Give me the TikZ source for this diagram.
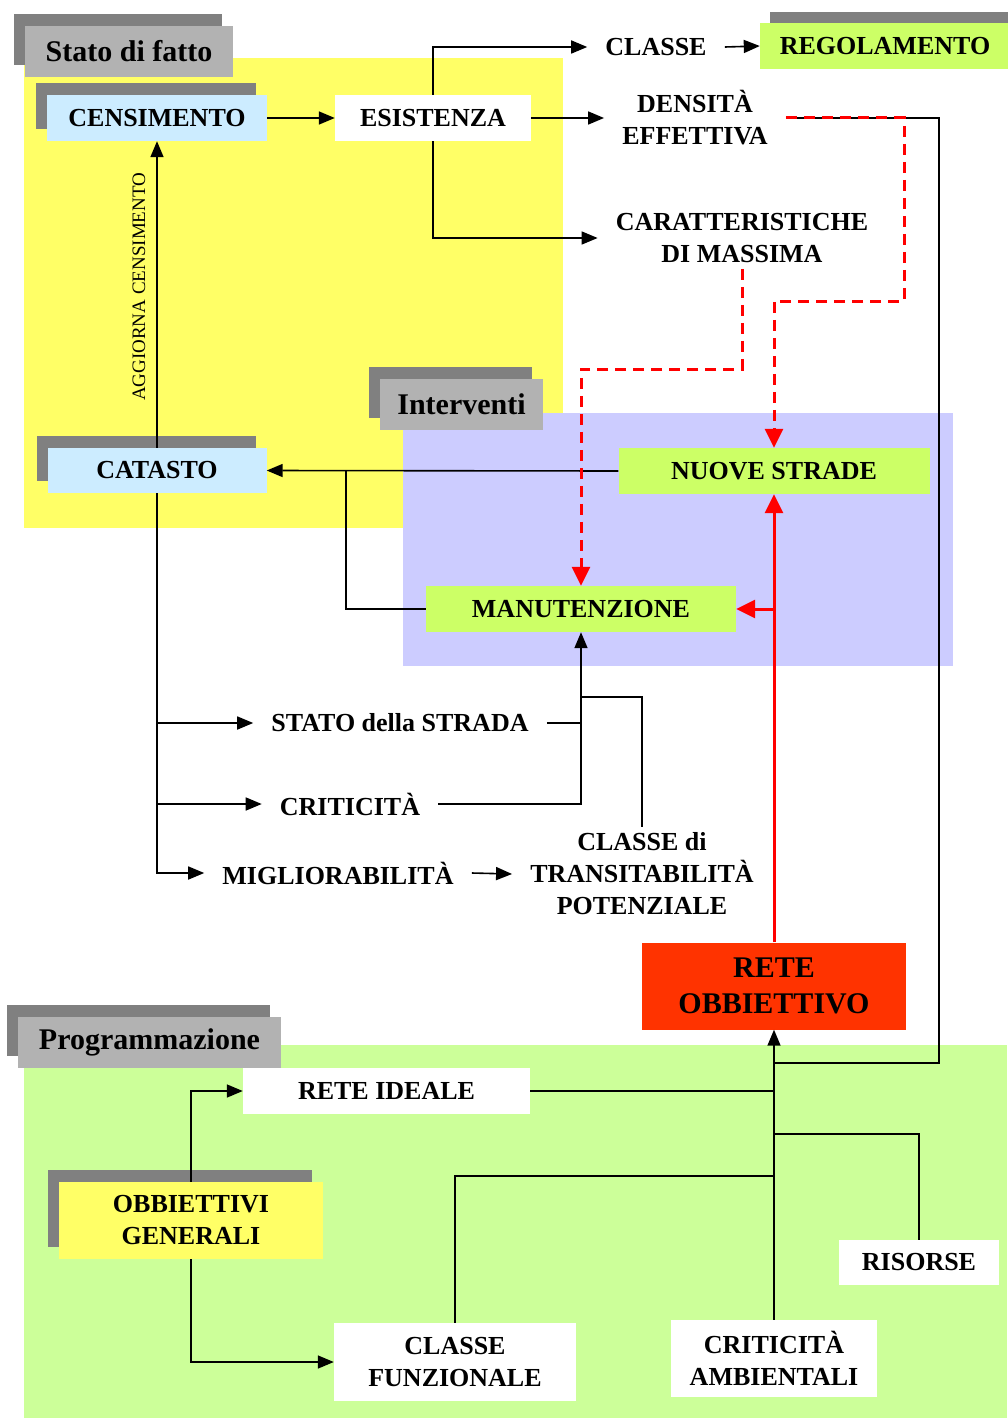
\documentclass[tikz,border=0pt]{standalone}
\usepackage{fontspec}
\setmainfont{Liberation Serif}
\usetikzlibrary{arrows.meta,shadows}
\definecolor{giallo}{HTML}{FFFF66}
\definecolor{lilla}{HTML}{CCCCFF}
\definecolor{verdino}{HTML}{CCFF99}
\definecolor{verde}{HTML}{CCFF66}
\definecolor{celeste}{HTML}{CCECFF}
\definecolor{grigio}{HTML}{B2B2B2}
\definecolor{ombra}{HTML}{808080}
\definecolor{arancio}{HTML}{FF3300}
\tikzset{
	testo/.style={font=\fontsize{26}{32}\selectfont\bfseries, align=center, inner xsep=18pt, inner ysep=6pt},
	casella/.style={testo, inner sep=0pt, fill=#1},
	ombrata/.style={general shadow={fill=ombra, shadow xshift=-11pt, shadow yshift=12pt}},
	titolo/.style={font=\fontsize{30}{36}\selectfont\bfseries, fill=grigio, inner sep=0pt, minimum height=51pt, ombrata},
	linea/.style={line width=1.6pt},
	freccia/.style={linea, -{Triangle[length=16pt,width=13pt]}},
	rossa/.style={red, line width=3pt, -{Triangle[length=19pt,width=18pt]}},
	tratteggio/.style={rossa, dash pattern=on 11pt off 7pt}
}
\begin{document}
\begin{tikzpicture}[x=1pt,y=-1pt,line join=miter]
	\useasboundingbox (0,0) rectangle (1007,1418);
	% riquadri
	\fill[giallo] (24,58) rectangle (563,528);
	\fill[lilla] (403,413) rectangle (953,666);
	\fill[verdino] (24,1045) rectangle (1007,1418);

	\node[titolo, minimum width=208pt] (statofatto) at (129,51.5) {Stato di fatto};
	\node[titolo, minimum width=163pt] (interventi) at (461.5,404.5) {Interventi};
	\node[titolo, minimum width=263pt] (programmazione) at (149.5,1042.5) {Programmazione};

	% stato di fatto
	\node[casella=celeste, ombrata, minimum width=220pt, minimum height=46pt] (censimento) at (157,118) {CENSIMENTO};
	\node[casella=white, minimum width=196pt, minimum height=46pt] (esistenza) at (433,118) {ESISTENZA};
	\node[testo] (classe) at (656,47) {CLASSE};
	\node[casella=verde, minimum width=250pt, minimum height=46pt,
		general shadow={fill=ombra, shadow xshift=10pt, shadow yshift=11pt}] (regolamento) at (885,46) {REGOLAMENTO};
	\node[testo] (densita) at (695,118) {DENSITÀ\\EFFETTIVA};
	\node[testo] (caratt) at (742,238) {CARATTERISTICHE\\DI MASSIMA};
	\node[casella=celeste, ombrata, minimum width=219pt, minimum height=45pt] (catasto) at (157,470.5) {CATASTO};

	% interventi
	\node[casella=verde, minimum width=311pt, minimum height=46pt] (nuove) at (774,471) {NUOVE STRADE};
	\node[casella=verde, minimum width=310pt, minimum height=46pt] (manutenzione) at (581,609) {MANUTENZIONE};
	\node[testo] (statostrada) at (400,723) {STATO della STRADA};
	\node[testo] (criticita) at (350,804) {CRITICITÀ};
	\node[testo] (migliorabilita) at (338,873) {MIGLIORABILITÀ};
	\node[testo] (transitabilita) at (642,874) {CLASSE di\\TRANSITABILITÀ\\POTENZIALE};
	\node[casella=arancio, font=\fontsize{30}{36}\selectfont\bfseries, minimum width=264pt, minimum height=87pt] (reteobb) at (774,986) {RETE\\OBBIETTIVO};

	% programmazione
	\node[casella=white, minimum width=287pt, minimum height=46pt] (reteideale) at (386.5,1091) {RETE IDEALE};
	\node[casella=giallo, ombrata, minimum width=264pt, minimum height=77pt] (obgenerali) at (191,1220.5) {OBBIETTIVI\\GENERALI};
	\node[casella=white, minimum width=242pt, minimum height=78pt] (classefunz) at (455,1362) {CLASSE\\FUNZIONALE};
	\node[casella=white, minimum width=206pt, minimum height=77pt] (critamb) at (774,1358.5) {CRITICITÀ\\AMBIENTALI};
	\node[casella=white, minimum width=160pt, minimum height=45pt] (risorse) at (919,1262.5) {RISORSE};

	\coordinate (jman) at (581,697);
	\coordinate (jden) at (774,1063);
	\coordinate (jide) at (774,1091);
	\coordinate (jris) at (774,1134);
	\coordinate (jfun) at (774,1176);

	% collegamenti
	\draw[freccia] (censimento.east) -- (esistenza.west);
	\draw[freccia] (esistenza.north) |- (classe.west);
	\draw[freccia] (esistenza.east) -- (densita.west);
	\draw[freccia] (esistenza.south) |- (caratt.west);
	\draw[freccia] (classe.east) -- (regolamento.west);
	\draw[freccia] (catasto.north) -- node[pos=0.525, sloped, above=11pt, inner sep=0pt,
		font=\fontsize{19}{22}\selectfont] {AGGIORNA CENSIMENTO} (censimento.south);
	\draw[freccia] (nuove.west) -- (catasto.east);
	\draw[linea] (manutenzione.west) -| (346,471);
	\draw[freccia] (catasto.south) |- (migliorabilita.west);
	\draw[freccia] (catasto.south |- statostrada.west) -- (statostrada.west);
	\draw[freccia] (catasto.south |- criticita.west) -- (criticita.west);
	\draw[freccia] (migliorabilita.east) -- (transitabilita.west);
	\draw[freccia] (criticita.east) -| (manutenzione.south);
	\draw[linea] (statostrada.east) -- (statostrada.east -| manutenzione.south);
	\draw[linea] (transitabilita.north) |- (jman);
	\draw[linea] (densita.east) -| (939,1063) -- (jden);

	% rosso
	\draw[tratteggio] (densita.east) -| (904,301) -| (nuove.north);
	\draw[tratteggio] (caratt.south) |- (581,369) -- (manutenzione.north);
	\draw[rossa] (reteobb.north) -- (nuove.south);
	\draw[rossa] (nuove.south |- manutenzione.east) -- (manutenzione.east);

	\draw[freccia] (obgenerali.north) |- (reteideale.west);
	\draw[freccia] (obgenerali.south) |- (classefunz.west);
	\draw[freccia] (critamb.north) -- (reteobb.south);
	\draw[linea] (reteideale.east) -- (jide);
	\draw[linea] (risorse.north) |- (jris);
	\draw[linea] (classefunz.north) |- (jfun);
\end{tikzpicture}
\end{document}
